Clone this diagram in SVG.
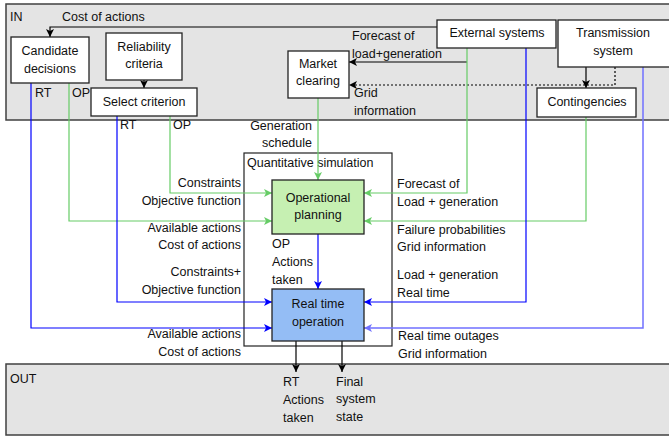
<svg xmlns="http://www.w3.org/2000/svg" width="669" height="436" viewBox="0 0 669 436">
<style>
text{font-family:"Liberation Sans",Arial,sans-serif;font-size:12.5px;fill:#111}
.c{text-anchor:middle}
.e{text-anchor:end}
.area{fill:#e4e4e4;stroke:#404040;stroke-width:1.5}
.box{fill:#fff;stroke:#222;stroke-width:1.3}
.k{fill:none;stroke:#000;stroke-width:1.2}
.g{fill:none;stroke:#66cc66;stroke-width:1.2}
.b{fill:none;stroke:#0000ff;stroke-width:1.2}
.lb{fill:none;stroke:#7070ff;stroke-width:1.5}
.d{stroke-dasharray:2,2}
</style>
<defs>
<marker id="ak" viewBox="0 0 8 8" refX="8" refY="4" markerWidth="8" markerHeight="8" markerUnits="userSpaceOnUse" orient="auto"><path d="M0,0L8,4L0,8L2,4z" fill="#000"/></marker>
<marker id="ag" viewBox="0 0 8 8" refX="8" refY="4" markerWidth="8" markerHeight="8" markerUnits="userSpaceOnUse" orient="auto"><path d="M0,0L8,4L0,8L2,4z" fill="#66cc66"/></marker>
<marker id="ab" viewBox="0 0 8 8" refX="8" refY="4" markerWidth="8" markerHeight="8" markerUnits="userSpaceOnUse" orient="auto"><path d="M0,0L8,4L0,8L2,4z" fill="#0000ff"/></marker>
<marker id="alb" viewBox="0 0 8 8" refX="8" refY="4" markerWidth="8" markerHeight="8" markerUnits="userSpaceOnUse" orient="auto"><path d="M0,0L8,4L0,8L2,4z" fill="#7070ff"/></marker>
</defs>
<g id="in-area">
<rect class="area" x="6" y="4" width="670" height="116"/>
<text x="10" y="21">IN</text>
</g>
<g id="out-area">
<rect class="area" x="6" y="364" width="670" height="71"/>
<text x="10" y="383">OUT</text>
</g>
<g id="quantitative-simulation">
<rect x="244" y="153" width="148" height="193" fill="none" stroke="#222" stroke-width="1.2"/>
<text x="247" y="167">Quantitative simulation</text>
</g>
<g id="connectors">
<path class="k" d="M437,27H50V37" marker-end="url(#ak)"/>
<path class="k" d="M144,80V88" marker-end="url(#ak)"/>
<path class="k" d="M467,62H349" marker-end="url(#ak)"/>
<path class="k d" d="M615,67V85H349" marker-end="url(#ak)"/>
<path class="k" d="M586,67V88" marker-end="url(#ak)"/>
<path class="g" d="M318,98V180" marker-end="url(#ag)"/>
<path class="g" d="M170,116V193H272" marker-end="url(#ag)"/>
<path class="g" d="M69,83V221H272" marker-end="url(#ag)"/>
<path class="g" d="M467,48V193H364" marker-end="url(#ag)"/>
<path class="g" d="M586,117V221H364" marker-end="url(#ag)"/>
<path class="b" d="M117,116V302H272" marker-end="url(#ab)"/>
<path class="b" d="M31,83V328H272" marker-end="url(#ab)"/>
<path class="b" d="M526,48V302H364" marker-end="url(#ab)"/>
<path class="lb" d="M643,67V328H364" marker-end="url(#alb)"/>
<path class="b" d="M318,234V289" marker-end="url(#ab)"/>
<path class="k" d="M296,341V372" marker-end="url(#ak)"/>
<path class="k" d="M342,341V372" marker-end="url(#ak)"/>
</g>
<g id="labels">
<text x="62" y="21">Cost of actions</text>
<text x="35" y="97">RT</text>
<text x="72" y="97">OP</text>
<text x="120" y="129">RT</text>
<text x="173" y="129">OP</text>
<text x="352" y="40">Forecast of</text>
<text x="352" y="58">load+generation</text>
<text x="354" y="97">Grid</text>
<text x="354" y="115">information</text>
<text class="e" x="312" y="130">Generation</text>
<text class="e" x="312" y="147">schedule</text>
<text class="e" x="241" y="187">Constraints</text>
<text class="e" x="241" y="205">Objective function</text>
<text class="e" x="241" y="232">Available actions</text>
<text class="e" x="241" y="249">Cost of actions</text>
<text class="e" x="241" y="276">Constraints+</text>
<text class="e" x="241" y="294">Objective function</text>
<text class="e" x="241" y="338">Available actions</text>
<text class="e" x="241" y="356">Cost of actions</text>
<text x="397" y="188">Forecast of</text>
<text x="397" y="206">Load + generation</text>
<text x="397" y="234">Failure probabilities</text>
<text x="397" y="251">Grid information</text>
<text x="397" y="279">Load + generation</text>
<text x="397" y="297">Real time</text>
<text x="398" y="340">Real time outages</text>
<text x="398" y="358">Grid information</text>
<text x="272" y="248">OP</text>
<text x="272" y="266">Actions</text>
<text x="272" y="284">taken</text>
<text x="283" y="386">RT</text>
<text x="283" y="404">Actions</text>
<text x="283" y="422">taken</text>
<text x="336" y="386">Final</text>
<text x="336" y="403">system</text>
<text x="336" y="421">state</text>
</g>
<g id="candidate-decisions">
<rect class="box" x="11" y="37" width="78" height="46"/>
<text class="c" x="50" y="55">Candidate</text>
<text class="c" x="50" y="73">decisions</text>
</g>
<g id="reliability-criteria">
<rect class="box" x="106" y="33" width="76" height="47"/>
<text class="c" x="144" y="51">Reliability</text>
<text class="c" x="144" y="68">criteria</text>
</g>
<g id="select-criterion">
<rect class="box" x="91" y="88" width="106" height="28"/>
<text class="c" x="144" y="106">Select criterion</text>
</g>
<g id="market-clearing">
<rect class="box" x="288" y="51" width="61" height="47"/>
<text class="c" x="318" y="68">Market</text>
<text class="c" x="318" y="85">clearing</text>
</g>
<g id="external-systems">
<rect class="box" x="437" y="20" width="119" height="28"/>
<text class="c" x="497" y="37">External systems</text>
</g>
<g id="transmission-system">
<rect class="box" x="558" y="20" width="115" height="47"/>
<text class="c" x="613" y="37">Transmission</text>
<text class="c" x="613" y="55">system</text>
</g>
<g id="contingencies">
<rect class="box" x="537" y="88" width="99" height="29"/>
<text class="c" x="587" y="106">Contingencies</text>
</g>
<g id="operational-planning">
<rect x="272" y="180" width="92" height="54" fill="#c6f0b2" stroke="#222" stroke-width="1.3"/>
<text class="c" x="318" y="202">Operational</text>
<text class="c" x="318" y="219">planning</text>
</g>
<g id="real-time-operation">
<rect x="272" y="289" width="92" height="52" fill="#94bdf5" stroke="#222" stroke-width="1.3"/>
<text class="c" x="318" y="308">Real time</text>
<text class="c" x="318" y="326">operation</text>
</g>
</svg>
